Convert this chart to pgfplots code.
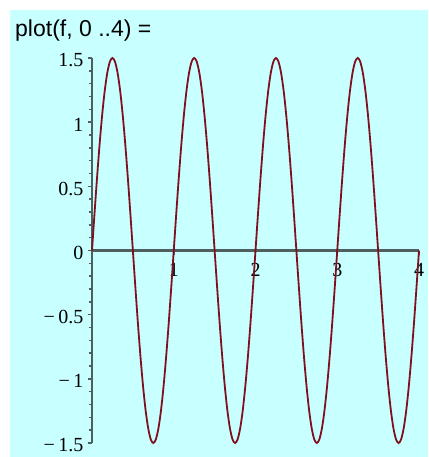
\documentclass[border=0pt]{standalone}
\usepackage{fontspec}
\usepackage{pgfplots}
\usepackage{pgfplotstable}
\pgfplotsset{compat=1.18}
\newfontfamily\titlefont{Liberation Sans}
\newfontfamily\tickfont{Liberation Serif}
\definecolor{bgcyan}{HTML}{C8FFFF}
\definecolor{curvered}{HTML}{80101E}
\definecolor{axisgray}{HTML}{4F5F5F}

% f = 1.5 sin(2 pi t), every 1/32
\pgfplotstableread{
x y
0 0
0.03125 0.2926
0.0625 0.5740
0.09375 0.8334
0.125 1.0607
0.15625 1.2472
0.1875 1.3858
0.21875 1.4712
0.25 1.5
0.28125 1.4712
0.3125 1.3858
0.34375 1.2472
0.375 1.0607
0.40625 0.8334
0.4375 0.5740
0.46875 0.2926
0.5 0
0.53125 -0.2926
0.5625 -0.5740
0.59375 -0.8334
0.625 -1.0607
0.65625 -1.2472
0.6875 -1.3858
0.71875 -1.4712
0.75 -1.5
0.78125 -1.4712
0.8125 -1.3858
0.84375 -1.2472
0.875 -1.0607
0.90625 -0.8334
0.9375 -0.5740
0.96875 -0.2926
1 0
1.03125 0.2926
1.0625 0.5740
1.09375 0.8334
1.125 1.0607
1.15625 1.2472
1.1875 1.3858
1.21875 1.4712
1.25 1.5
1.28125 1.4712
1.3125 1.3858
1.34375 1.2472
1.375 1.0607
1.40625 0.8334
1.4375 0.5740
1.46875 0.2926
1.5 0
1.53125 -0.2926
1.5625 -0.5740
1.59375 -0.8334
1.625 -1.0607
1.65625 -1.2472
1.6875 -1.3858
1.71875 -1.4712
1.75 -1.5
1.78125 -1.4712
1.8125 -1.3858
1.84375 -1.2472
1.875 -1.0607
1.90625 -0.8334
1.9375 -0.5740
1.96875 -0.2926
2 0
2.03125 0.2926
2.0625 0.5740
2.09375 0.8334
2.125 1.0607
2.15625 1.2472
2.1875 1.3858
2.21875 1.4712
2.25 1.5
2.28125 1.4712
2.3125 1.3858
2.34375 1.2472
2.375 1.0607
2.40625 0.8334
2.4375 0.5740
2.46875 0.2926
2.5 0
2.53125 -0.2926
2.5625 -0.5740
2.59375 -0.8334
2.625 -1.0607
2.65625 -1.2472
2.6875 -1.3858
2.71875 -1.4712
2.75 -1.5
2.78125 -1.4712
2.8125 -1.3858
2.84375 -1.2472
2.875 -1.0607
2.90625 -0.8334
2.9375 -0.5740
2.96875 -0.2926
3 0
3.03125 0.2926
3.0625 0.5740
3.09375 0.8334
3.125 1.0607
3.15625 1.2472
3.1875 1.3858
3.21875 1.4712
3.25 1.5
3.28125 1.4712
3.3125 1.3858
3.34375 1.2472
3.375 1.0607
3.40625 0.8334
3.4375 0.5740
3.46875 0.2926
3.5 0
3.53125 -0.2926
3.5625 -0.5740
3.59375 -0.8334
3.625 -1.0607
3.65625 -1.2472
3.6875 -1.3858
3.71875 -1.4712
3.75 -1.5
3.78125 -1.4712
3.8125 -1.3858
3.84375 -1.2472
3.875 -1.0607
3.90625 -0.8334
3.9375 -0.5740
3.96875 -0.2926
4 0
}\fdata

\begin{document}
\begin{tikzpicture}
\path[use as bounding box] (0,0) rectangle (428pt,-457pt);
\fill[bgcyan] (10pt,-10pt) rectangle (428pt,-457pt);
\node[anchor=base west, inner sep=0pt, font=\titlefont\fontsize{23}{23}\selectfont]
  at (15pt,-37pt) {plot(f, 0 ..4) =};
\begin{axis}[
    at={(92pt,-443pt)}, anchor=south west,
    scale only axis, width=327pt, height=385pt,
    xmin=0, xmax=4, ymin=-1.5, ymax=1.5,
    axis lines=middle,
    axis line style={-, draw=axisgray, line width=2.2pt},
    clip=false,
    xtick={1,2,3,4},
    xticklabels={1,2,3,4},
    ytick={-1.5,-1,-0.5,0,0.5,1,1.5},
    yticklabels={−\,1.5,−\,1,−\,0.5,0,0.5,1,1.5},
    hide obscured x ticks=false,
    hide obscured y ticks=false,
    minor y tick num=4,
    tick align=outside,
    major tick length=4.5pt,
    minor tick length=3.5pt,
    tick style={draw=axisgray, line width=1.6pt},
    every tick label/.style={font=\tickfont\fontsize{20}{20}\selectfont, text=black},
    yticklabel style={anchor=east, inner sep=0pt, xshift=-4pt, yshift=-2.5pt},
    xticklabel style={anchor=north, inner sep=0pt, yshift=-8pt},
]
\addplot[curvered, line width=1.8pt, smooth] table[x=x, y=y] {\fdata};
\end{axis}
\end{tikzpicture}
\end{document}
